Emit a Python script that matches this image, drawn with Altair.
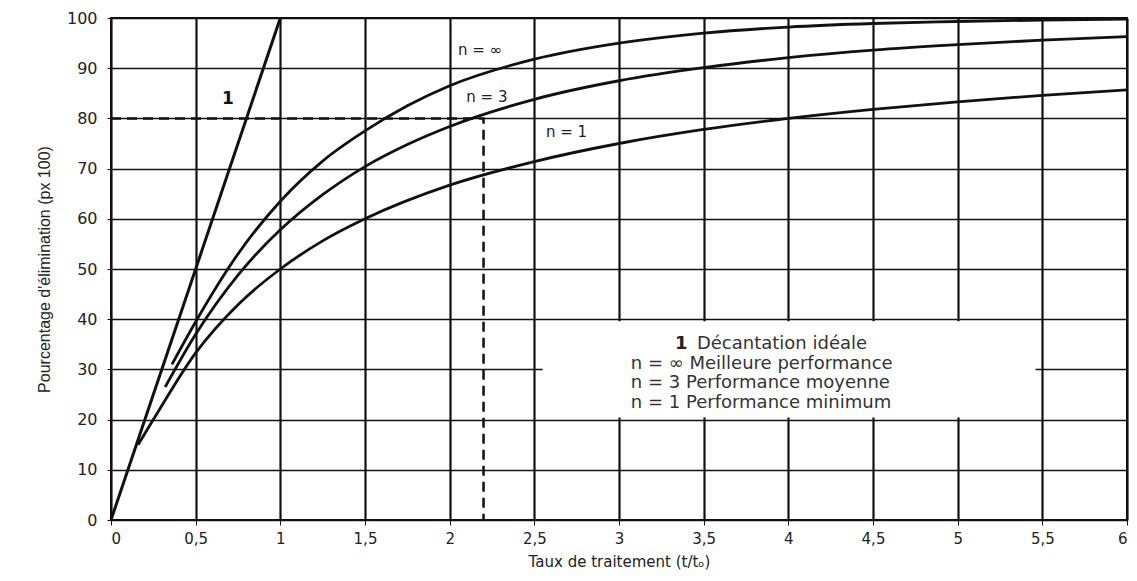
import altair as alt
import pandas as pd

# ---- data ----
ideal_x = [0, 1]
ideal_y = [0, 100]

inf_x = [0.36, 0.5, 0.75, 1.0, 1.25, 1.5, 1.75, 2.0, 2.5, 3.0, 3.5, 4.0, 4.5, 5.0, 5.5, 6.0]
inf_y = [31, 39.5, 53, 63.5, 71.5, 77.5, 82.5, 86.5, 91.8, 95, 97, 98.2, 98.9, 99.3, 99.6, 99.8]

n3_x = [0.32, 0.5, 0.75, 1.0, 1.25, 1.5, 1.75, 2.0, 2.5, 3.0, 3.5, 4.0, 4.5, 5.0, 5.5, 6.0]
n3_y = [26.5, 37, 48.8, 57.8, 64.8, 70.4, 74.8, 78.4, 83.8, 87.5, 90.1, 92.1, 93.6, 94.7, 95.6, 96.3]

n1_x = [0.16, 0.25, 0.5, 0.75, 1.0, 1.25, 1.5, 2.0, 2.5, 3.0, 3.5, 4.0, 4.5, 5.0, 5.5, 6.0]
n1_y = [15, 20, 33.3, 42.9, 50, 55.6, 60, 66.7, 71.4, 75, 77.8, 80, 81.8, 83.3, 84.6, 85.7]

x_ticks = [0, 0.5, 1, 1.5, 2, 2.5, 3, 3.5, 4, 4.5, 5, 5.5, 6]
y_ticks = [0, 10, 20, 30, 40, 50, 60, 70, 80, 90, 100]

curve_labels = ["n = \u221e", "n = 3", "n = 1"]
curve_label_x = [2.18, 2.22, 2.69]
curve_label_y = [93.6, 84.3, 77.3]

legend_lines = ["n = \u221e Meilleure performance", "n = 3 Performance moyenne", "n = 1 Performance minimum"]
legend_y = [31.1, 27.2, 23.3]

FONT = "DejaVu Sans"

rows = []
for name, xs, ys in [("inf", inf_x, inf_y), ("n3", n3_x, n3_y), ("n1", n1_x, n1_y)]:
    for a, b in zip(xs, ys):
        rows.append({"s": name, "x": a, "y": b})
curves_df = pd.DataFrame(rows)
ideal_df = pd.DataFrame({"x": ideal_x, "y": ideal_y})

xs = alt.Scale(domain=[0, 6], nice=False, zero=False)
ys = alt.Scale(domain=[0, 100], nice=False, zero=False)

base_x = alt.X("x:Q", scale=xs,
               axis=alt.Axis(values=x_ticks, labelExpr="replace(toString(datum.value), '.', ',')",
                             title="Taux de traitement (t/t\u2092)", grid=True,
                             gridColor="#111", gridWidth=2.2, domain=False,
                             tickColor="#111", tickSize=5, labelFont=FONT, labelFontSize=15,
                             labelColor="#222", labelPadding=6, titleFont=FONT, titleFontSize=15,
                             titleFontWeight="normal", titleColor="#222", titlePadding=8))
base_y = alt.Y("y:Q", scale=ys,
               axis=alt.Axis(values=y_ticks, title="Pourcentage d'\u00e9limination (px 100)",
                             grid=True, gridColor="#111", gridWidth=1.6, domain=False,
                             tickColor="#111", tickSize=4, labelFont=FONT, labelFontSize=16,
                             labelColor="#222", labelPadding=10,
                             titleFont="Liberation Sans", titleFontSize=16,
                             titleFontWeight="normal", titleColor="#222", titlePadding=14))

grid_layer = alt.Chart(ideal_df).mark_point(opacity=0).encode(x=base_x, y=base_y)

box_df = pd.DataFrame({"x": [2.55], "x2": [5.46], "y": [20.4], "y2": [39.6]})
box = alt.Chart(box_df).mark_rect(fill="white").encode(
    x=alt.X("x:Q", scale=xs), x2="x2:Q", y=alt.Y("y:Q", scale=ys), y2="y2:Q")

ideal = alt.Chart(ideal_df).mark_line(color="#111", strokeWidth=3).encode(
    x=alt.X("x:Q", scale=xs), y=alt.Y("y:Q", scale=ys))

curves = alt.Chart(curves_df).mark_line(color="#111", strokeWidth=2.8, interpolate="monotone").encode(
    x=alt.X("x:Q", scale=xs), y=alt.Y("y:Q", scale=ys), detail="s:N")

dash_df = pd.DataFrame({"x": [0, 2.2, 2.2], "y": [80, 80, 0]})
dash = alt.Chart(dash_df).mark_line(color="#111", strokeWidth=2.5, strokeDash=[10, 6]).encode(
    x=alt.X("x:Q", scale=xs), y=alt.Y("y:Q", scale=ys), order=alt.Order("y:Q", sort="descending"))

lab_df = pd.DataFrame({"t": curve_labels, "x": curve_label_x, "y": curve_label_y})
labels = alt.Chart(lab_df).mark_text(font=FONT, fontSize=15, color="#222", align="center").encode(
    x=alt.X("x:Q", scale=xs), y=alt.Y("y:Q", scale=ys), text="t:N")

one_df = pd.DataFrame({"t": ["1"], "x": [0.69], "y": [83.9]})
one = alt.Chart(one_df).mark_text(font=FONT, fontSize=17, fontWeight="bold", color="#111").encode(
    x=alt.X("x:Q", scale=xs), y=alt.Y("y:Q", scale=ys), text="t:N")

leg1a = alt.Chart(pd.DataFrame({"t": ["1"], "x": [3.33], "y": [35.1]})).mark_text(
    font=FONT, fontSize=18, fontWeight="bold", color="#222", align="left").encode(
    x=alt.X("x:Q", scale=xs), y=alt.Y("y:Q", scale=ys), text="t:N")
leg1b = alt.Chart(pd.DataFrame({"t": ["D\u00e9cantation id\u00e9ale"], "x": [3.46], "y": [35.1]})).mark_text(
    font=FONT, fontSize=18, color="#333", align="left").encode(
    x=alt.X("x:Q", scale=xs), y=alt.Y("y:Q", scale=ys), text="t:N")
leg_rest = alt.Chart(pd.DataFrame({"t": legend_lines, "x": [3.07] * 3, "y": legend_y})).mark_text(
    font=FONT, fontSize=18, color="#333", align="left").encode(
    x=alt.X("x:Q", scale=xs), y=alt.Y("y:Q", scale=ys), text="t:N")

chart = alt.layer(grid_layer, box, ideal, curves, dash, labels, one, leg1a, leg1b, leg_rest).properties(
    width=1016, height=502,
    padding={"left": 103, "top": 10, "right": 2, "bottom": 52},
    autosize=alt.AutoSizeParams(type="none"),
    background="white",
).configure_view(stroke="#111", strokeWidth=2)

chart.save("out.html", embed_options={"renderer": "svg", "actions": False})
